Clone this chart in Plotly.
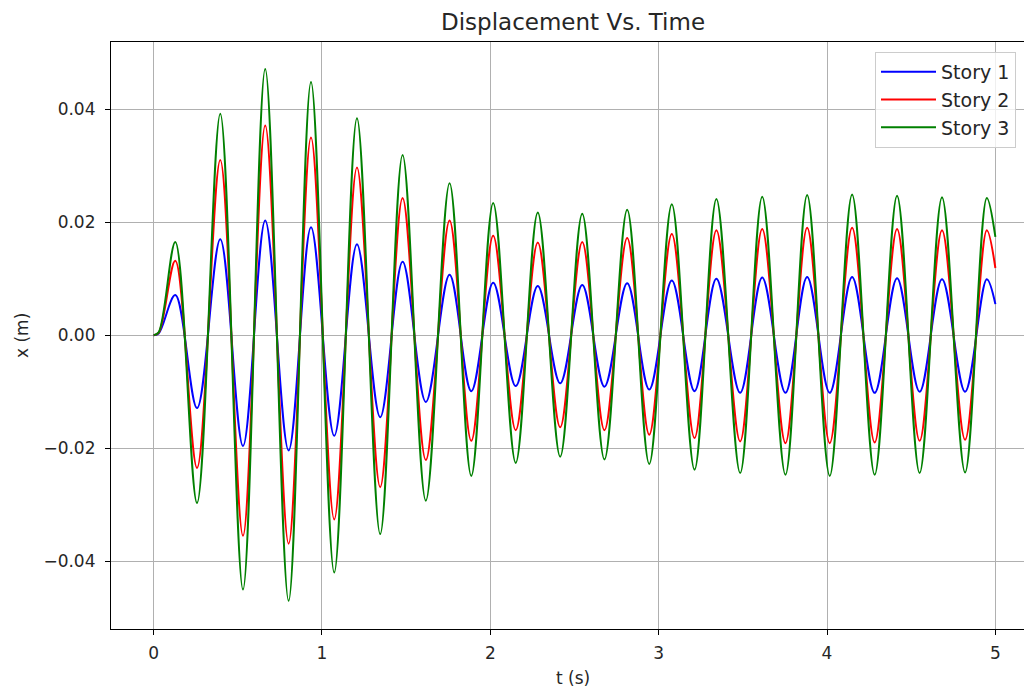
import plotly.graph_objects as go

# Extrema (peaks/troughs) of the response, plus start and end points
t_s = [0.0, 0.03, 0.129, 0.258, 0.396, 0.531, 0.663, 0.802, 0.935, 1.073, 1.208, 1.346,
       1.479, 1.617, 1.758, 1.887, 2.017, 2.151, 2.282, 2.415, 2.546, 2.678, 2.813,
       2.944, 3.078, 3.213, 3.343, 3.484, 3.615, 3.753, 3.882, 4.016, 4.149, 4.283,
       4.416, 4.550, 4.683, 4.820, 4.949, 5.0]

story1 = [0, 0.0003, 0.0071, -0.0129, 0.0170, -0.0196, 0.0203, -0.0204, 0.0191, -0.0178, 0.0161,
          -0.0145, 0.0130, -0.0118, 0.0107, -0.0099, 0.0093, -0.0090, 0.0087, -0.0085,
          0.0089, -0.0091, 0.0092, -0.0096, 0.0097, -0.0099, 0.0100, -0.0102, 0.0102,
          -0.0102, 0.0103, -0.0102, 0.0103, -0.0102, 0.0101, -0.0100, 0.0099, -0.0100,
          0.0099, 0.0055]

story2 = [0, 0.0004, 0.0132, -0.0235, 0.0310, -0.0355, 0.0371, -0.0369, 0.0350, -0.0326, 0.0297,
          -0.0269, 0.0243, -0.0221, 0.0203, -0.0187, 0.0176, -0.0168, 0.0164, -0.0163,
          0.0165, -0.0168, 0.0172, -0.0176, 0.0179, -0.0182, 0.0186, -0.0188, 0.0188,
          -0.0191, 0.0190, -0.0191, 0.0190, -0.0190, 0.0188, -0.0187, 0.0186, -0.0185,
          0.0186, 0.0119]

story3 = [0, 0.0005, 0.0165, -0.0297, 0.0392, -0.0450, 0.0471, -0.0470, 0.0448, -0.0420, 0.0384,
          -0.0352, 0.0319, -0.0293, 0.0269, -0.0249, 0.0234, -0.0226, 0.0217, -0.0215,
          0.0215, -0.0220, 0.0222, -0.0228, 0.0232, -0.0238, 0.0241, -0.0244, 0.0245,
          -0.0247, 0.0248, -0.0249, 0.0249, -0.0247, 0.0247, -0.0244, 0.0244, -0.0243,
          0.0243, 0.0174]

series_names = ["Story 1", "Story 2", "Story 3"]
series_colors = ["#0000ff", "#ff0000", "#008000"]

x_ticks = [0, 1, 2, 3, 4, 5]
y_ticks = [-0.04, -0.02, 0.00, 0.02, 0.04]

FONT = "DejaVu Sans"

fig = go.Figure()
for name, vals, col in zip(series_names, [story1, story2, story3], series_colors):
    fig.add_trace(go.Scatter(
        x=t_s, y=vals, name=name, mode="lines", legendgroup=name,
        line=dict(color=col, width=2, shape="spline", smoothing=1),
    ))

L, T, B = 111, 42, 60
W, H = 1024, 689
pw, ph = W - L, H - T - B

def px_x(p):
    return (p - L) / pw

def px_y(p):
    return (H - B - p) / ph

fig.update_layout(
    width=W, height=H,
    margin=dict(l=L, r=0, t=T, b=B, pad=0),
    paper_bgcolor="white", plot_bgcolor="white",
    font=dict(family=FONT, size=16, color="#262626"),
    showlegend=True,
    legend=dict(
        x=px_x(875), y=px_y(52), xanchor="left", yanchor="top",
        bgcolor="rgba(255,255,255,0.8)", bordercolor="#cccccc", borderwidth=1,
        font=dict(family=FONT, size=19, color="#262626"),
        itemwidth=55, tracegroupgap=9, traceorder="normal",
        entrywidth=170, entrywidthmode="pixels",
    ),
    xaxis=dict(
        range=[-0.253, 5.170], tickvals=x_ticks, ticktext=[str(v) for v in x_ticks],
        showgrid=True, gridcolor="#b0b0b0", gridwidth=0.8, zeroline=False,
        showline=True, linecolor="black", linewidth=1.2, mirror=True,
        ticks="outside", ticklen=5, tickcolor="black", tickwidth=1,
        ticklabelstandoff=3,
        tickfont=dict(family=FONT, size=17, color="#262626"),
    ),
    yaxis=dict(
        range=[-0.0520, 0.0519], tickvals=y_ticks, tickformat=".2f",
        showgrid=True, gridcolor="#b0b0b0", gridwidth=0.8, zeroline=False,
        showline=True, linecolor="black", linewidth=1.2, mirror=False,
        ticks="outside", ticklen=5, tickcolor="black", tickwidth=1,
        ticklabelstandoff=6,
        tickfont=dict(family=FONT, size=17, color="#262626"),
    ),
    annotations=[
        dict(text="Displacement Vs. Time", xref="paper", yref="paper",
             x=px_x(573), y=px_y(22), xanchor="center", yanchor="middle",
             showarrow=False, font=dict(family=FONT, size=23, color="#262626")),
        dict(text="t (s)", xref="paper", yref="paper",
             x=px_x(573), y=px_y(678), xanchor="center", yanchor="middle",
             showarrow=False, font=dict(family=FONT, size=17, color="#262626")),
        dict(text="x (m)", xref="paper", yref="paper", textangle=-90,
             x=px_x(22), y=px_y(336), xanchor="center", yanchor="middle",
             showarrow=False, font=dict(family=FONT, size=17, color="#262626")),
    ],
)

fig.write_html(
    "out.html",
    config={"displayModeBar": False},
    post_script="document.body.style.margin='0';document.body.style.overflow='hidden';",
)
